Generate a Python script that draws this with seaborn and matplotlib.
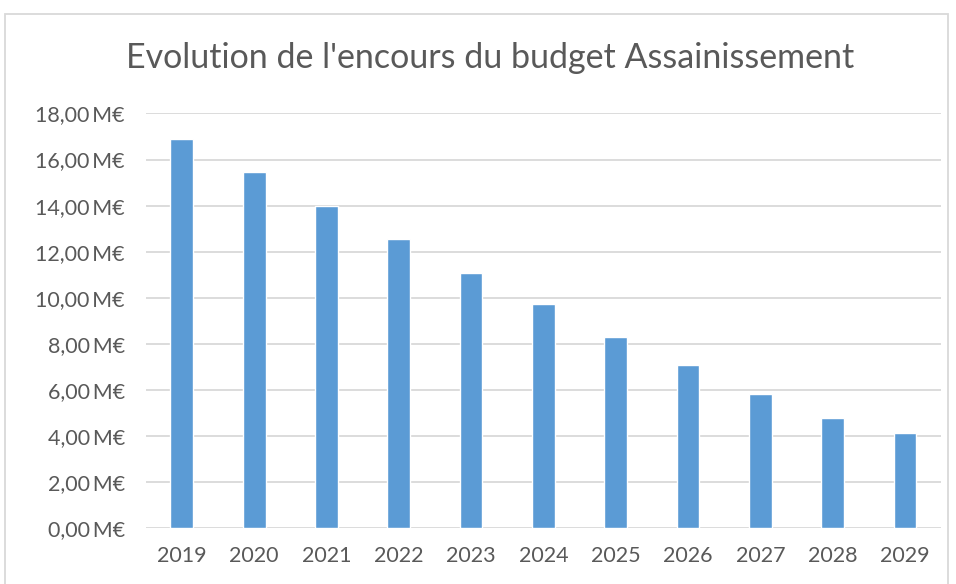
import matplotlib
matplotlib.use("Agg")
import matplotlib.pyplot as plt
import matplotlib.patches as patches
from matplotlib.ticker import FuncFormatter, MultipleLocator
import pandas as pd
import seaborn as sns

years = ["2019", "2020", "2021", "2022", "2023", "2024", "2025", "2026", "2027", "2028", "2029"]
encours = [16.90, 15.46, 14.00, 12.56, 11.09, 9.75, 8.30, 7.07, 5.84, 4.80, 4.12]

TITLE = "Evolution de l'encours du budget Assainissement"
BAR_COLOR = "#5B9BD5"
TEXT_COLOR = "#595959"
GRID_COLOR = "#D9D9D9"

sns.set_theme(style="white")
plt.rcParams["font.family"] = ["Lato", "DejaVu Sans"]

df = pd.DataFrame({"annee": years, "encours": encours})

fig = plt.figure(figsize=(9.56, 5.84), dpi=100)
ax = fig.add_axes([0.1524, 0.0954, 0.832, 0.7103])

sns.barplot(data=df, x="annee", y="encours", color=BAR_COLOR, saturation=1,
            width=0.315, ax=ax, zorder=3)

ax.set_ylim(0, 18)
ax.yaxis.set_major_locator(MultipleLocator(2))
ax.yaxis.set_major_formatter(FuncFormatter(lambda v, p: f"{v:.2f}".replace(".", ",") + "\u2009M€"))
ax.grid(axis="y", color=GRID_COLOR, linewidth=1.3, zorder=0)
ax.set_axisbelow(True)
for s in ax.spines.values():
    s.set_visible(False)
ax.tick_params(axis="both", length=0, labelsize=15.5, colors=TEXT_COLOR)
ax.tick_params(axis="y", pad=15)
ax.tick_params(axis="x", pad=13)
ax.set_xlabel("")
ax.set_ylabel("")

fig.text(0.5126, 0.90, TITLE, ha="center", va="center", fontsize=24.5, color=TEXT_COLOR)

# chart frame
fig.patches.append(patches.Rectangle((5 / 956, -0.05), (948 - 5) / 956, 1.05 - 14 / 584,
                                     transform=fig.transFigure, fill=False,
                                     edgecolor=GRID_COLOR, linewidth=1.3))

fig.savefig("out.png", dpi=100)
